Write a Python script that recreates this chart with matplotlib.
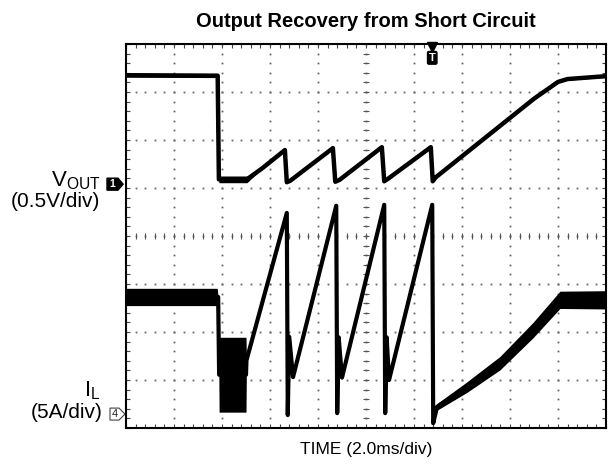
import numpy as np
import matplotlib.pyplot as plt
import matplotlib.transforms as mtransforms
from matplotlib.patches import Polygon

plt.rcParams['font.family'] = 'Liberation Sans'
plt.rcParams['mathtext.fontset'] = 'custom'
plt.rcParams['mathtext.rm'] = 'Liberation Sans'

# Scope settings
t_div = 2.0      # ms/div
v_div = 0.5      # V/div
i_div = 5.0      # A/div
n_xdiv = 10
n_ydiv = 8
v_ref = 5.08     # channel 1 ground level, div from bottom
i_ref = 0.29     # channel 4 zero level, div from bottom
t_trig = 12.76   # trigger position, ms

# VOUT trace (ms, V) and noise half-width (V)
t_v = [0.0, 3.82, 3.87, 5.04, 5.70, 6.62, 6.70, 6.84, 8.62, 8.72, 8.90,
       10.66, 10.76, 10.94, 12.70, 12.78, 12.90, 13.20, 14.20, 15.60,
       17.00, 18.00, 18.40, 20.0]
vout = [1.135, 1.13, 0.05, 0.05, 0.17, 0.355, 0.02, 0.035, 0.375, 0.025, 0.045,
        0.385, 0.03, 0.06, 0.385, 0.03, 0.07, 0.13, 0.33, 0.61,
        0.89, 1.065, 1.095, 1.125]
v_noise = [0.02, 0.02, 0.035, 0.035, 0.0, 0.0, 0.0, 0.0, 0.0, 0.0, 0.0,
           0.0, 0.0, 0.0, 0.0, 0.0, 0.0, 0.0, 0.0, 0.0,
           0.0, 0.01, 0.012, 0.012]

# Inductor current trace (ms, A) and noise half-width (A)
t_i = [0.0, 3.80, 3.84, 3.88, 5.00, 5.02, 6.70, 6.74, 6.80, 6.96,
       8.76, 8.80, 8.86, 9.00, 10.76, 10.80, 10.86, 10.96, 12.76, 12.80,
       12.96, 14.20, 15.58, 16.96, 18.08, 20.0]
il = [12.2, 12.2, 12.2, 4.1, 4.1, 5.6, 20.95, -0.1, 8.05, 3.85,
      21.7, 0.1, 8.0, 3.8, 21.8, 0.1, 8.0, 3.55, 21.8, -0.95,
      0.75, 2.8, 5.3, 8.75, 11.9, 11.9]
il_noise = [0.9, 0.9, 0.0, 3.9, 3.9, 0.0, 0.0, 0.0, 0.0, 0.0,
            0.0, 0.0, 0.0, 0.0, 0.0, 0.0, 0.0, 0.0, 0.0, 0.0,
            0.35, 0.55, 0.7, 0.8, 0.9, 0.95]

t_v = np.array(t_v); vout = np.array(vout); v_noise = np.array(v_noise)
t_i = np.array(t_i); il = np.array(il); il_noise = np.array(il_noise)

fig = plt.figure(figsize=(6.11, 4.66), dpi=100)
rect = [126/611, 38/466, 480/611, 384/466]

# graticule
ax = fig.add_axes(rect)
ax.set_xlim(0, n_xdiv)
ax.set_ylim(0, n_ydiv)
ax.set_xticks(np.arange(0, n_xdiv + 1))
ax.set_yticks(np.arange(0, n_ydiv + 1))
ax.set_xticks(np.arange(0, n_xdiv + 0.01, 0.2), minor=True)
ax.set_yticks(np.arange(0, n_ydiv + 0.01, 0.2), minor=True)
ax.tick_params(which='both', direction='in', length=3, width=0.8, color='#444',
               top=True, right=True, labelbottom=False, labelleft=False)
for s in ax.spines.values():
    s.set_linewidth(1.5)

xdots = np.arange(0, n_xdiv + 0.01, 0.2)
ydots = np.arange(0, n_ydiv + 0.01, 0.2)
for k in range(1, n_xdiv):
    ax.plot(np.full_like(ydots, k), ydots, ls='none', marker='s', ms=1.3,
            mew=0, color='#666')
for k in range(1, n_ydiv):
    ax.plot(xdots, np.full_like(xdots, k), ls='none', marker='s', ms=1.3,
            mew=0, color='#666')
# center crosshair ticks
ax.vlines(xdots, n_ydiv/2 - 0.07, n_ydiv/2 + 0.07, lw=0.8, color='#555')
ax.hlines(ydots, n_xdiv/2 - 0.07, n_xdiv/2 + 0.07, lw=0.8, color='#555')

ax.set_title('Output Recovery from Short Circuit', fontsize=14.5,
             fontweight='bold', pad=12)
ax.set_xlabel('TIME (2.0ms/div)', fontsize=12.5, labelpad=10)

# channel labels
ax.text(-0.054, 0.630, r'V$_{\mathrm{OUT}}$', transform=ax.transAxes,
        fontsize=16, ha='right', va='baseline')
ax.text(-0.054, 0.5755, '(0.5V/div)', transform=ax.transAxes,
        fontsize=15, ha='right', va='baseline')
ax.text(-0.054, 0.081, r'I$_{\mathrm{L}}$', transform=ax.transAxes,
        fontsize=16, ha='right', va='baseline')
ax.text(-0.048, 0.026, '(5A/div)', transform=ax.transAxes,
        fontsize=15, ha='right', va='baseline')

# VOUT channel
ax_v = fig.add_axes(rect)
ax_v.set_xlim(0, n_xdiv*t_div)
ax_v.set_ylim(-v_ref*v_div, (n_ydiv - v_ref)*v_div)
ax_v.set_axis_off()
ax_v.fill_between(t_v, vout - v_noise, vout + v_noise, color='black', lw=0)
ax_v.plot(t_v, vout, color='black', lw=3.2)

# IL channel
ax_i = fig.add_axes(rect)
ax_i.set_xlim(0, n_xdiv*t_div)
ax_i.set_ylim(-i_ref*i_div, (n_ydiv - i_ref)*i_div)
ax_i.set_axis_off()
ax_i.fill_between(t_i, il - il_noise, il + il_noise, color='black', lw=0)
ax_i.plot(t_i, il, color='black', lw=3.0)

# channel 1 ground marker
trans_v = mtransforms.blended_transform_factory(ax_v.transAxes, ax_v.transData)
h = 0.0625
ax_v.add_patch(Polygon([[-0.0396, -h], [-0.0167, -h], [-0.006, 0],
                        [-0.0167, h], [-0.0396, h]], closed=True,
                       transform=trans_v, fc='black', ec='black', clip_on=False))
ax_v.text(-0.028, 0, '1', transform=trans_v, color='white', fontsize=7.5,
          fontweight='bold', ha='center', va='center', clip_on=False)

# channel 4 ground marker
trans_i = mtransforms.blended_transform_factory(ax_i.transAxes, ax_i.transData)
h = 0.625
ax_i.add_patch(Polygon([[-0.0333, -h], [-0.0146, -h], [-0.0021, 0],
                        [-0.0146, h], [-0.0333, h]], closed=True,
                       transform=trans_i, fc='white', ec='#444', lw=0.8,
                       clip_on=False))
ax_i.text(-0.0225, 0, '4', transform=trans_i, color='#222', fontsize=8,
          ha='center', va='center', clip_on=False)

# trigger marker
trans_t = mtransforms.blended_transform_factory(ax_v.transData, ax_v.transAxes)
ax_v.plot([t_trig], [0.992], marker='v', ms=7, color='black',
          transform=trans_t, clip_on=False)
ax_v.text(t_trig, 0.964, 'T', transform=trans_t, color='white', fontsize=8,
          fontweight='bold', ha='center', va='center',
          bbox=dict(boxstyle='round,pad=0.12', fc='black', ec='black'))

plt.savefig('out.png', dpi=100)
